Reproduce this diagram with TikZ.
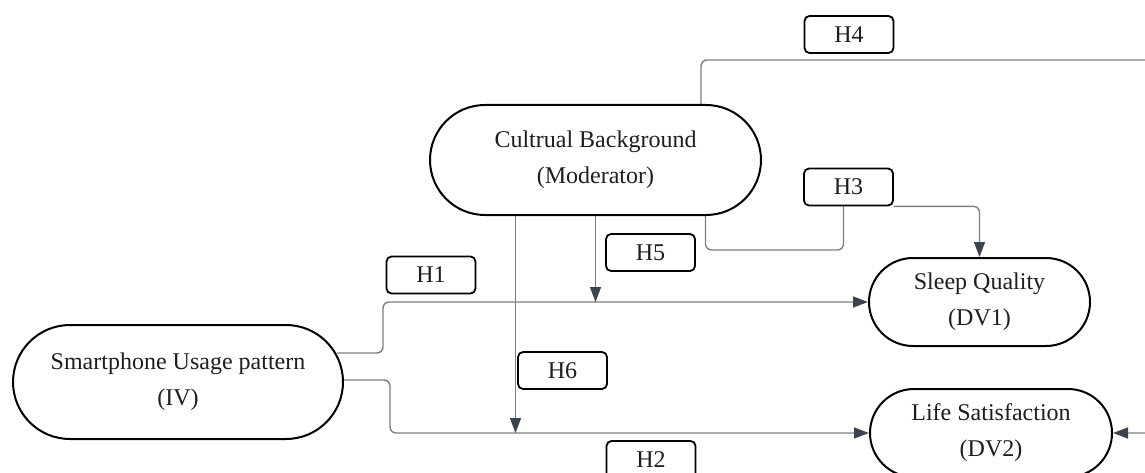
\documentclass[tikz,border=0pt]{standalone}
\usepackage{fontspec}
\setmainfont{Liberation Serif}
\usetikzlibrary{arrows.meta,calc,backgrounds}
\definecolor{linegray}{RGB}{128,128,128}
\definecolor{arrowgray}{RGB}{62,68,78}
\definecolor{txt}{RGB}{30,30,30}
\begin{document}
\begin{tikzpicture}[x=1pt,y=-1pt,
  every node/.style={font=\fontsize{24}{36}\selectfont, text=txt},
  var/.style={draw=black, line width=2pt, fill=white, align=center, inner sep=0pt},
  hyp/.style={draw=black, line width=1.8pt, fill=white, rounded corners=5pt,
    minimum width=89pt, minimum height=37pt, inner sep=0pt},
  conn/.style={draw=linegray, line width=1.4pt, rounded corners=6pt},
  arr/.style={conn, -{Triangle[length=15pt,width=11pt,color=arrowgray]}}
]
\clip (0,0) rectangle (1145,473);

% variables
\node[var, minimum width=331pt, minimum height=110pt, rounded corners=55pt] (cult) at (595.5,160) {Cultrual Background\\(Moderator)};
\node[var, minimum width=330pt, minimum height=114pt, rounded corners=57pt] (smart) at (178,382) {Smartphone Usage pattern\\(IV)};
\node[var, minimum width=221pt, minimum height=88pt, rounded corners=44pt] (sleep) at (979.5,302) {Sleep Quality\\(DV1)};
\node[var, minimum width=242pt, minimum height=88pt, rounded corners=44pt] (life) at (991,433) {Life Satisfaction\\(DV2)};

% hypotheses
\node[hyp] (H1) at (431,275) {H1};
\node[hyp] (H2) at (651,459.5) {H2};
\node[hyp] (H3) at (848.5,187) {H3};
\node[hyp] (H4) at (849,34.5) {H4};
\node[hyp] (H5) at (650.5,252.5) {H5};
\node[hyp] (H6) at (562.5,370.5) {H6};

% connector helper points
\coordinate (s1) at ($(smart.east)+(-7,-29)$);
\coordinate (c3) at ($(cult.south)+(110,0)$);
\coordinate (h3in) at ($(H3.south)+(-5,0)$);
\coordinate (c4) at ($(cult.north)+(105.5,0)$);
\coordinate (off) at (1170,60);
\coordinate (c6) at ($(cult.south)+(-80,0)$);

\begin{scope}[on background layer]
  \fill[white] (0,0) rectangle (1145,473);
  % H1
  \draw[arr] (s1) -- ++(46,0) |- (sleep.west);
  % H2
  \draw[arr] ($(smart.east)+(0,-2)$) -- ++(46,0) |- (life.west);
  % H3
  \draw[conn] (c3) -- ++(0,34) -| (h3in);
  \draw[arr] (H3.south east) -| (sleep.north);
  % H4
  \draw[arr] (c4) |- (off) |- (life.east);
  % H5
  \draw[arr] (cult.south) -- (cult.south |- sleep.west);
  % H6
  \draw[arr] (c6) -- (c6 |- life.west);
\end{scope}
\end{tikzpicture}
\end{document}
